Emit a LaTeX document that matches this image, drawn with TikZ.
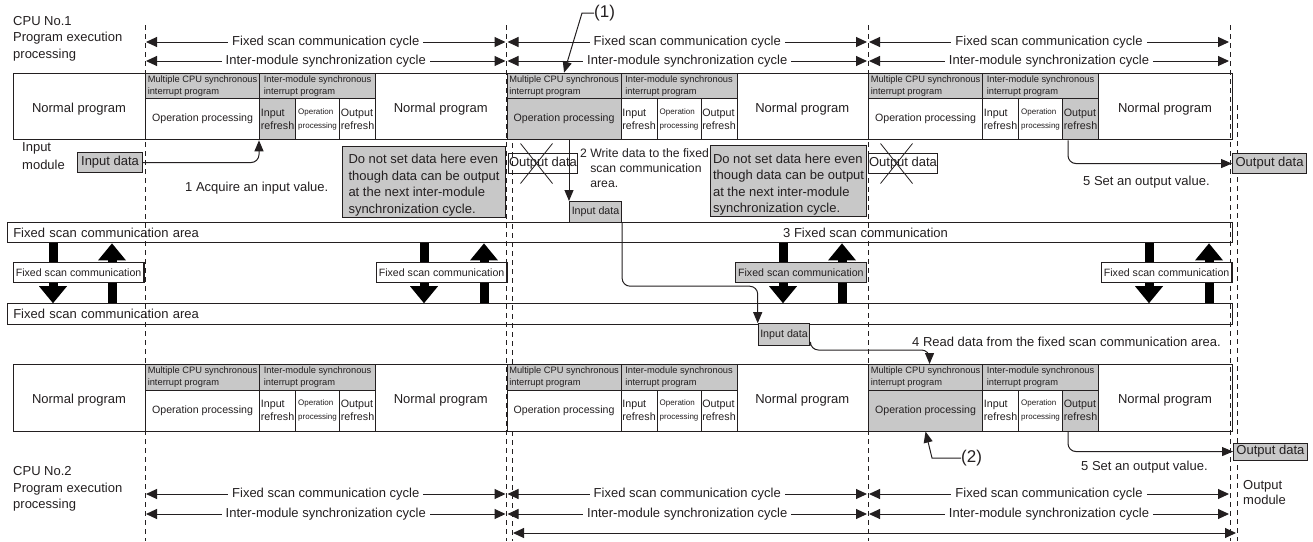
\documentclass[tikz,border=0pt]{standalone}
\usepackage{fontspec}
\setmainfont{Liberation Sans}
\usetikzlibrary{arrows.meta,calc}
\definecolor{boxgray}{RGB}{200,200,200}
\definecolor{inkgray}{RGB}{35,31,32}
\newcommand{\mainfs}{\fontsize{13}{16.5}\selectfont}
\newcommand{\hdrfs}{\fontsize{9.3}{11.5}\selectfont}
\newcommand{\opfs}{\fontsize{10.6}{13}\selectfont}
\newcommand{\reffs}{\fontsize{10.7}{13.4}\selectfont}
\newcommand{\tinyfs}{\fontsize{8}{13.4}\selectfont}
\newcommand{\callfs}{\fontsize{17}{20}\selectfont}
% one program execution row: #1 top, #2 name prefix, #3 fills per cycle
\newcommand{\cpurow}[3]{%
  \node[cell, minimum width=1219pt, minimum height=66.5pt] (#2row) at (13,#1) {};
  \foreach \cx/\ga/\gb/\gc [count=\k] in {#3} {
    \node[cell, fill=boxgray, minimum width=114pt, minimum height=25.5pt, font=\hdrfs] (#2ha\k) at (\cx,#1) {Multiple CPU synchronous\\interrupt program};
    \node[cell, fill=boxgray, minimum width=116pt, minimum height=25.5pt, font=\hdrfs] (#2hb\k) at (\cx+114,#1) {Inter-module synchronous\\interrupt program};
    \node[cell, fill=\ga, minimum width=114pt, minimum height=41pt, font=\opfs] (#2op\k) at (\cx,#1+25.5) {Operation processing};
    \node[cell, fill=\gb, minimum width=36pt, minimum height=41pt, font=\reffs] (#2in\k) at (\cx+114,#1+25.5) {Input\\refresh};
    \node[cell, fill=white, minimum width=44pt, minimum height=41pt, font=\tinyfs] (#2pp\k) at (\cx+150,#1+25.5) {Operation\\processing};
    \node[cell, fill=\gc, minimum width=36pt, minimum height=41pt, font=\reffs] (#2or\k) at (\cx+194,#1+25.5) {Output\\refresh};
  }
  \foreach \x [count=\k] in {79,440.75,802.25,1165}
    \node[mtext] (#2np\k) at (\x,#1+36.5) {Normal program};
}

\begin{document}
\begin{tikzpicture}[x=1pt, y=-1pt,
  cell/.style={draw=inkgray, line width=1.1pt, anchor=north west, inner sep=0pt, align=left, text=inkgray},
  mtext/.style={font=\mainfs, text=inkgray, inner sep=0pt},
  bar/.style={draw=inkgray, line width=1.1pt, fill=white, anchor=north west, inner xsep=6pt, inner ysep=0pt, minimum height=20.3pt, text width=1213pt, align=left, font=\mainfs, text=inkgray},
  fscbox/.style={draw=inkgray, line width=1.1pt, anchor=north west, inner sep=0pt, minimum width=130.7pt, minimum height=20pt, font=\opfs, text=inkgray},
  databox/.style={draw=inkgray, line width=1.1pt, fill=boxgray, anchor=north west, inner sep=0pt, text=inkgray},
  xbox/.style={draw=inkgray, line width=1pt, anchor=north west, inner sep=0pt, minimum width=69pt, minimum height=20.6pt, font=\mainfs, text=inkgray},
  note/.style={draw=inkgray, line width=1.1pt, fill=boxgray, anchor=north west, inner sep=0pt, minimum height=71pt, align=left, font=\mainfs, text=inkgray},
  guide/.style={draw=inkgray, line width=0.9pt, dash pattern=on 5pt off 4pt},
  cyc/.style={draw=inkgray, line width=1pt, {Triangle[length=11pt,width=10pt]}-{Triangle[length=11pt,width=10pt]}},
  cyclab/.style={mtext, fill=white, inner xsep=4pt, inner ysep=1pt},
  flow/.style={draw=inkgray, line width=1pt, -{Triangle[length=11pt,width=9pt]}},
  bigarr/.style={draw=black, line width=9pt, -{Triangle[length=17pt,width=28pt,line width=0pt]}},
]
\useasboundingbox (0,0) rectangle (1313,541);
% fixed scan communication areas
\node[bar] (areaA) at (6.7,222) {Fixed scan communication area};
\node[bar] (areaB) at (6.7,303.2) {Fixed scan communication area};
\node[mtext, anchor=west] (step3) at (783,233) {3 Fixed scan communication};
% output data that must not be set
\node[xbox] (xoutA) at (508,152.7) {Output data};
\node[xbox] (xoutB) at (868,152.7) {Output data};
\foreach \n in {xoutA,xoutB} {
  \draw[inkgray, line width=0.8pt] ($(\n.center)+(-22.5,-20)$) -- ($(\n.center)+(9.5,20)$);
  \draw[inkgray, line width=0.8pt] ($(\n.center)+(9.5,-20)$) -- ($(\n.center)+(-22.5,20)$);
}
% cycle boundaries
\foreach \x in {145,506.5,868,1230}
  \draw[guide] (\x,25) -- (\x,541);
\draw[guide] (512,143) -- (512,541);
\draw[guide] (1237,105) -- (1237,541);
% cycles
\foreach \y/\txt [count=\r] in {42/Fixed scan communication cycle, 61/Inter-module synchronization cycle, 494/Fixed scan communication cycle, 514/Inter-module synchronization cycle}
  \foreach \a/\b [count=\s] in {145/506.5, 506.5/868, 868/1230}
    \draw[cyc] (\a+1,\y) -- (\b-1,\y) node[midway, cyclab] (cyc\r\s) {\txt};
\draw[cyc] (513,533) -- (1236,533);
% CPU No.1 and CPU No.2
\cpurow{72.7}{a}{145/white/boxgray/white, 506.5/boxgray/white/white, 868/white/white/boxgray}
\cpurow{364}{b}{145/white/white/white, 506.5/white/white/white, 868/boxgray/white/boxgray}
% fixed scan communication between the areas
\foreach \d/\u in {53/112, 424/484, 783/842, 1149/1209} {
  \draw[bigarr] (\d,0 |- areaA.south) -- (\d,0 |- areaB.north);
  \draw[bigarr] (\u,0 |- areaB.north) -- (\u,0 |- areaA.south);
}
\node[fscbox, fill=white] (fscA) at (12.7,262) {Fixed scan communication};
\node[fscbox, fill=white] (fscB) at (375.7,262) {Fixed scan communication};
\node[fscbox, fill=boxgray] (fscC) at (735,262) {Fixed scan communication};
\node[fscbox, fill=white] (fscD) at (1100.7,262) {Fixed scan communication};
% data
\node[databox, minimum width=65pt, minimum height=20.6pt, font=\mainfs] (inA) at (77,151.7) {Input data};
\node[databox, minimum width=52pt, minimum height=20.7pt, font=\reffs] (inB) at (569,201) {Input data};
\node[databox, minimum width=51.6pt, minimum height=21.3pt, font=\reffs] (inC) at (757.7,323.2) {Input data};
\node[databox, minimum width=74pt, minimum height=20.6pt, font=\mainfs] (outA) at (1232,152.7) {Output data};
\node[databox, minimum width=73.7pt, minimum height=17pt, font=\mainfs] (outB) at (1233,442.5) {Output data};
\node[note, minimum width=163pt] (noteA) at (342,145.7) {\rule{0pt}{16.4pt}Do not set data here even\\though data can be output\\at the next inter-module\\synchronization cycle.};
\node[note, minimum width=156pt] (noteB) at (710,145) {\rule{0pt}{16.4pt}Do not set data here even\\though data can be output\\at the next inter-module\\synchronization cycle.};
% labels
\node[mtext, align=left, anchor=north west] (cpuA) at (13,16) {CPU No.1\\Program execution\\processing};
\node[mtext, align=left, anchor=north west] (cpuB) at (13,466.5) {CPU No.2\\Program execution\\processing};
\node[mtext, align=left, anchor=north west, font=\fontsize{13}{18}\selectfont] (inmod) at (22,142.7) {Input\\module};
\node[mtext, align=left, anchor=north west, font=\fontsize{13}{15}\selectfont] (outmod) at (1243,480) {Output\\module};
\node[mtext, anchor=west] (step1) at (185,188) {1 Acquire an input value.};
\node[mtext, align=left, anchor=north west, font=\fontsize{12.2}{15}\selectfont] (step2) at (580,148.3) {2 Write data to the fixed\\\hphantom{2 }scan communication\\\hphantom{2 }area.};
\node[mtext, anchor=west] (step4) at (912,341.5) {4 Read data from the fixed scan communication area.};
\node[mtext, anchor=west] (step5A) at (1083,182) {5 Set an output value.};
\node[mtext, anchor=west] (step5B) at (1081,466.7) {5 Set an output value.};
\node[mtext, font=\callfs, anchor=west] (callA) at (594,13) {(1)};
\node[mtext, font=\callfs, anchor=west] (callB) at (961,458) {(2)};
% data flow
\draw[flow, rounded corners=8pt] (inA.east) -| (ain1.south west);
\draw[flow] (aop2.south -| inB.north west) -- (inB.north west);
\draw[flow, rounded corners=8pt] (inB.south east) |- ($(inC.north west)+(0,-37)$) -- (inC.north west);
\draw[flow, rounded corners=8pt] (inC.south east) |- ($(bha3.north)+(4,-14)$) -- ($(bha3.north)+(4,0)$);
\draw[flow, rounded corners=8pt] ($(aor3.south west)+(6,0)$) |- (outA.west);
\draw[flow, rounded corners=8pt] ($(bor3.south west)+(6,0)$) |- (outB.west);
\draw[flow] (callA.west) -- ++(-12,0) -- (aha2.north);
\draw[flow] (callB.west) -- ++(-29,0) -- (bop3.south);
\end{tikzpicture}
\end{document}
